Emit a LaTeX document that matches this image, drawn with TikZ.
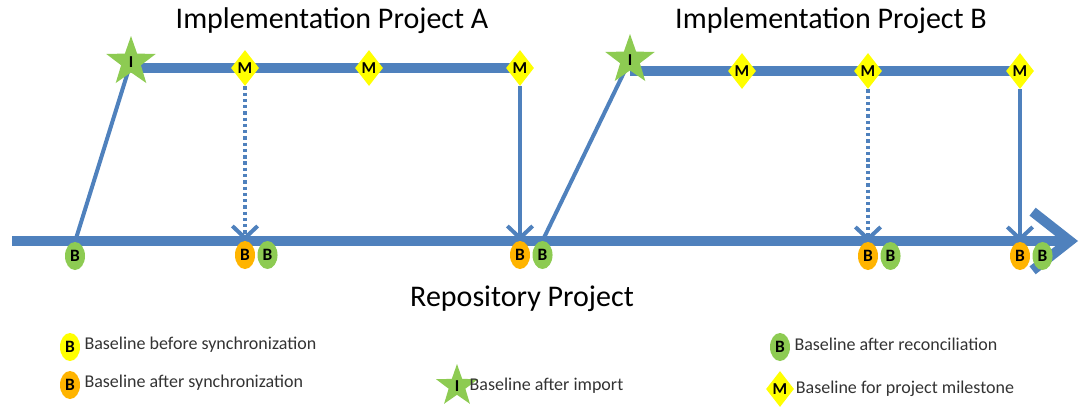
\documentclass[tikz,border=0pt]{standalone}
\usepackage{fontspec}
\setmainfont{Carlito}
\usetikzlibrary{positioning}
\usetikzlibrary{shapes.geometric,arrows.meta,backgrounds}
\definecolor{lineblue}{HTML}{4F81BD}
\definecolor{basegreen}{HTML}{8DCB52}
\definecolor{baseorange}{HTML}{FFB400}
\definecolor{baseyellow}{HTML}{FFFF00}
\tikzset{
    >=Stealth, % open heads are set per style below
    base/.style={ellipse, minimum width=15pt, minimum height=21pt, inner sep=0pt,
        font=\bfseries\fontsize{13}{13}\selectfont},
    unsynced/.style={base, fill=baseyellow},
    synced/.style={base, fill=baseorange},
    reconciled/.style={base, fill=basegreen},
    milestone/.style={diamond, fill=baseyellow, minimum width=21pt, minimum height=27pt,
        inner sep=0pt, font=\bfseries\fontsize{12.5}{12.5}\selectfont},
    import/.style={star, star points=5, star point ratio=2.5, fill=basegreen,
        minimum size=39pt, inner sep=0pt, font=\bfseries\fontsize{12.5}{12.5}\selectfont},
    track/.style={draw=lineblue, line width=7.5pt},
    link/.style={draw=lineblue, line width=3pt},
    merge/.style={link, -{Straight Barb[length=9pt,width=19pt]}},
    sync/.style={merge, dash pattern=on 2.5pt off 2.2pt},
    heading/.style={font=\fontsize{22.5}{27}\selectfont},
    legend/.style={font=\fontsize{13.5}{16}\selectfont, inner sep=0pt, text=black!80},
}
\begin{document}
\begin{tikzpicture}[x=0.75pt, y=-0.75pt]
    \useasboundingbox (0,0) rectangle (1082,408);

    % titles
    \node[heading] (titleA) at (332,21) {Implementation Project A};
    \node[heading] (titleB) at (831,21) {Implementation Project B};
    \node[heading] (titleRepo) at (522,299) {Repository Project};

    % project A
    \node[import] (starA) at (131,62) {I};
    \node[milestone] (mA1) at (245,68) {M};
    \node[milestone] (mA2) at (369,68) {M};
    \node[milestone] (mA3) at (520,68) {M};

    % project B
    \node[import] (starB) at (630,60) {I};
    \node[milestone] (mB1) at (742,71) {M};
    \node[milestone] (mB2) at (868,71) {M};
    \node[milestone] (mB3) at (1020,71) {M};

    % repository baselines
    \coordinate (repoStart) at (12,241);
    \coordinate (repoEnd) at (1078,241);
    \node[reconciled] (bA1) at (75,256) {B};
    \node[synced] (oA1) at (245,255) {B};
    \node[reconciled, right=1.5pt of oA1] (bA2) {B};
    \node[synced] (oA2) at (520,255) {B};
    \node[reconciled, right=1.5pt of oA2] (bA3) {B};
    \node[synced] (oB1) at (868,256) {B};
    \node[reconciled, right=1.5pt of oB1] (bB1) {B};
    \node[synced] (oB2) at (1020,256) {B};
    \node[reconciled, right=1.5pt of oB2] (bB2) {B};

    \begin{scope}[on background layer]
        \draw[track, -{Straight Barb[length=28pt,width=44pt]}] (repoStart) -- (repoEnd);
        \draw[track] (starA.center |- mA3.center) -- (mA3.center);
        \draw[track] (starB.center |- mB3.center) -- (mB3.center);
        \draw[link] (bA1.north) -- (starA.center);
        \draw[link] (bA3.north) -- (starB.center);
    \end{scope}

    \draw
    (mA1) edge[sync] (oA1)
    (mA3) edge[merge] (oA2)
    (mB2) edge[sync] (oB1)
    (mB3) edge[merge] (oB2)
    ;

    % legend
    \node[unsynced] (lgY) at (70,347) {B};
    \node[legend, right=3pt of lgY, yshift=2pt] (lgYtext) {Baseline before synchronization};
    \node[synced] (lgO) at (70,385) {B};
    \node[legend, right=3pt of lgO, yshift=2pt] (lgOtext) {Baseline after synchronization};
    \node[import, minimum size=33pt] (lgI) at (457,386) {I};
    \node[legend, right=0pt of lgI] (lgItext) {Baseline after import};
    \node[reconciled] (lgG) at (780,347) {B};
    \node[legend, right=3pt of lgG, yshift=2pt] (lgGtext) {Baseline after reconciliation};
    \node[milestone] (lgM) at (780,389) {M};
    \node[legend, right=1pt of lgM] (lgMtext) {Baseline for project milestone};
\end{tikzpicture}
\end{document}
